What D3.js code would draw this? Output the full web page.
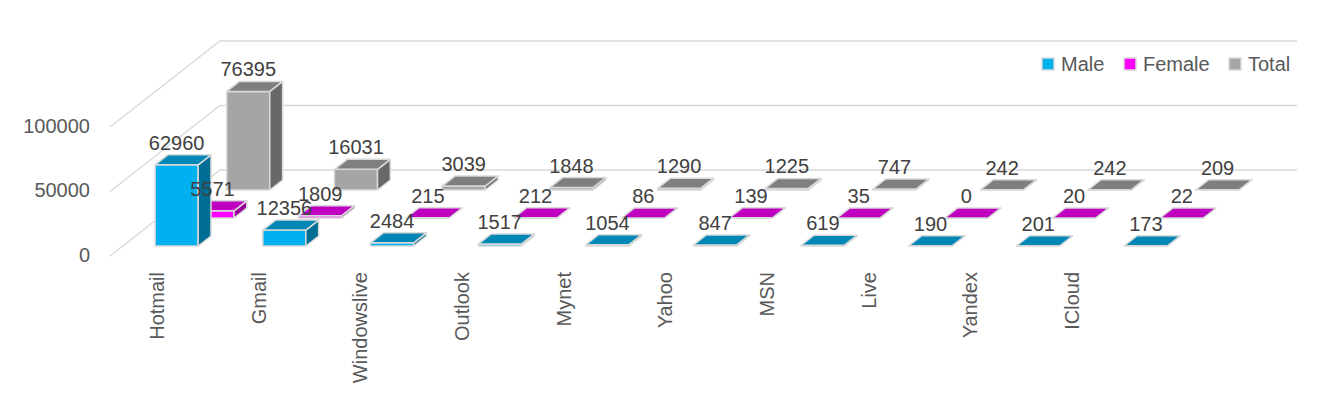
<!DOCTYPE html>
<html><head><meta charset="utf-8">
<script src="https://cdn.jsdelivr.net/npm/d3@7"></script>
<style>html,body{margin:0;padding:0;background:#fff;} svg{display:block;}</style>
</head><body>
<script>
const categories = ["Hotmail","Gmail","Windowslive","Outlook","Mynet","Yahoo","MSN","Live","Yandex","ICloud"];
const seriesNames = ["Male","Female","Total"];
const maleValues   = [62960,12356,2484,1517,1054,847,619,190,201,173];
const femaleValues = [5571,1809,215,212,86,139,35,0,20,22];
const totalValues  = [76395,16031,3039,1848,1290,1225,747,242,242,209];
const yTicks = [0,50000,100000];

const seriesData = {Male: maleValues, Female: femaleValues, Total: totalValues};
const colors = {
  Male:   {front:"#00B0F0", top:"#0087B6", side:"#006E94"},
  Female: {front:"#FF00FF", top:"#C000C0", side:"#9A009A"},
  Total:  {front:"#A5A5A5", top:"#7F7F7F", side:"#686868"}
};

const W = 1329, H = 413;
const svg = d3.select("body").append("svg").attr("width", W).attr("height", H);
const font = "'Liberation Sans', Arial, sans-serif";

// oblique 3D: depth measured in pixels upward; x shift per depth px
const depthTotal = 86, kx = 110/86;
const x = d3.scaleBand().domain(categories).range([110,1187]).paddingInner(0.6).paddingOuter(0.3);
const y = d3.scaleLinear().domain([0,100000]).range([256,127]);
const z = d3.scaleBand().domain(seriesNames).range([0, depthTotal]).paddingInner(0.643).paddingOuter(0.357);
const labelX = d3.scalePoint().domain(categories).range([157,1072]);

const P = (px, v, d) => [px + d*kx, y(v) - d];

// gridlines: left wall and back wall
const grid = svg.append("g");
yTicks.forEach(t => {
  const a = P(110, t, 0), b = P(110, t, depthTotal), c = P(x.range()[1], t, depthTotal);
  grid.append("polyline").attr("points", [a,b,c].map(p=>p.join(",")).join(" "))
    .attr("fill","none").attr("stroke","#D9D9D9").attr("stroke-width",1.3);
});

// y axis labels
svg.append("g").selectAll("text").data(yTicks).join("text")
  .attr("x", 90).attr("y", d => y(d) - 1.5).attr("dy","0.35em")
  .attr("text-anchor","end").attr("font-family",font).attr("font-size",20).attr("fill","#595959")
  .text(d => d);

// bars: back row first
const bars = svg.append("g");
const labels = [];
[...seriesNames].reverse().forEach(s => {
  const vals = seriesData[s], col = colors[s];
  const d0 = z(s), d1 = z(s) + z.bandwidth();
  categories.forEach((c,i) => {
    const v = vals[i];
    const xl = x(c), xr = x(c) + x.bandwidth();
    const fbl = P(xl,0,d0), fbr = P(xr,0,d0), ftl = P(xl,v,d0), ftr = P(xr,v,d0);
    const btl = P(xl,v,d1), btr = P(xr,v,d1), bbr = P(xr,0,d1);
    const g = bars.append("g").attr("stroke","#D9D9D9").attr("stroke-width",1.5).attr("stroke-linejoin","round");
    const poly = (pts, fill) => g.append("polygon").attr("points", pts.map(p=>p.join(",")).join(" ")).attr("fill", fill);
    poly([fbl,fbr,ftr,ftl], col.front);
    poly([fbr,bbr,btr,ftr], col.side);
    poly([ftl,ftr,btr,btl], col.top);
    labels.push({x:(xl+xr)/2 + d0*kx, y: btl[1] - 5, t: v});
  });
});

// data labels on top
svg.append("g").selectAll("text").data(labels).join("text")
  .attr("x", d=>d.x).attr("y", d=>d.y).attr("text-anchor","middle")
  .attr("font-family",font).attr("font-size",20).attr("fill","#404040")
  .text(d=>d.t);

// category labels
svg.append("g").selectAll("text").data(categories).join("text")
  .attr("transform", d => `translate(${labelX(d)},272) rotate(-90)`)
  .attr("dy","0.35em").attr("text-anchor","end")
  .attr("font-family",font).attr("font-size",20).attr("fill","#595959")
  .text(d=>d);

// legend
const legendX = [1042,1124,1229];
const lg = svg.append("g");
seriesNames.forEach((s,i) => {
  lg.append("rect").attr("x", legendX[i]).attr("y", 58).attr("width", 12).attr("height", 12)
    .attr("fill", colors[s].front).attr("stroke","#D9D9D9").attr("stroke-width",1.5);
  lg.append("text").attr("x", legendX[i] + 19).attr("y", 71)
    .attr("font-family",font).attr("font-size",20).attr("fill","#595959").text(s);
});
</script>
</body></html>
